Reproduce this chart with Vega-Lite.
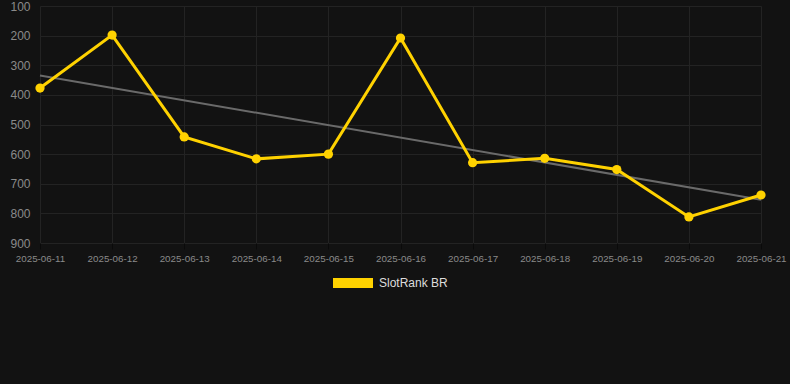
{
  "$schema": "https://vega.github.io/schema/vega-lite/v6.json",
  "width": 755,
  "height": 237,
  "autosize": {"type": "none"},
  "padding": {"left": 35, "top": 6, "right": 0, "bottom": 141},
  "background": "#121212",
  "config": {
    "view": {"stroke": null},
    "font": "Liberation Sans",
    "axis": {"gridColor": "#232323", "gridWidth": 1, "domain": false, "labelColor": "#8a8a8a"}
  },
  "data": {
    "values": [
      {"date": "2025-06-11", "rank": 377, "series": "SlotRank BR"},
      {"date": "2025-06-12", "rank": 198, "series": "SlotRank BR"},
      {"date": "2025-06-13", "rank": 542, "series": "SlotRank BR"},
      {"date": "2025-06-14", "rank": 616, "series": "SlotRank BR"},
      {"date": "2025-06-15", "rank": 600, "series": "SlotRank BR"},
      {"date": "2025-06-16", "rank": 208, "series": "SlotRank BR"},
      {"date": "2025-06-17", "rank": 629, "series": "SlotRank BR"},
      {"date": "2025-06-18", "rank": 614, "series": "SlotRank BR"},
      {"date": "2025-06-19", "rank": 652, "series": "SlotRank BR"},
      {"date": "2025-06-20", "rank": 812, "series": "SlotRank BR"},
      {"date": "2025-06-21", "rank": 738, "series": "SlotRank BR"}
    ]
  },
  "encoding": {
    "x": {
      "field": "date", "type": "temporal",
      "scale": {"type": "utc", "range": [5, 726]},
      "axis": {
        "title": null, "format": "%Y-%m-%d", "labelFontSize": 9.8,
        "tickCount": {"interval": "day", "step": 1},
        "ticks": true, "tickColor": "#0a0a0a", "tickSize": 6,
        "labelPadding": 4, "labelAngle": 0, "labelFlush": false
      }
    },
    "y": {
      "field": "rank", "type": "quantitative",
      "scale": {"domain": [100, 900], "reverse": true, "nice": false, "zero": false},
      "axis": {
        "title": null, "values": [100, 200, 300, 400, 500, 600, 700, 800, 900],
        "labelFontSize": 12, "ticks": false, "labelPadding": 5, "gridColor": "#232323"
      }
    }
  },
  "layer": [
    {
      "transform": [{"regression": "rank", "on": "date"}],
      "mark": {"type": "line", "color": "#6a6a6a", "strokeWidth": 2}
    },
    {
      "mark": {"type": "line", "color": "#FFD200", "strokeWidth": 3}
    },
    {
      "mark": {"type": "point", "filled": true, "opacity": 1, "size": 85},
      "encoding": {
        "color": {
          "field": "series", "type": "nominal",
          "scale": {"domain": ["SlotRank BR"], "range": ["#FFD200"]},
          "legend": {
            "title": null, "orient": "none", "legendX": 308, "legendY": 267,
            "symbolType": "M-2,-0.5H2V0.5H-2Z", "symbolSize": 400,
            "symbolStrokeWidth": 0, "labelColor": "#dddddd", "labelFontSize": 12,
            "labelOffset": 16
          }
        }
      }
    }
  ]
}
